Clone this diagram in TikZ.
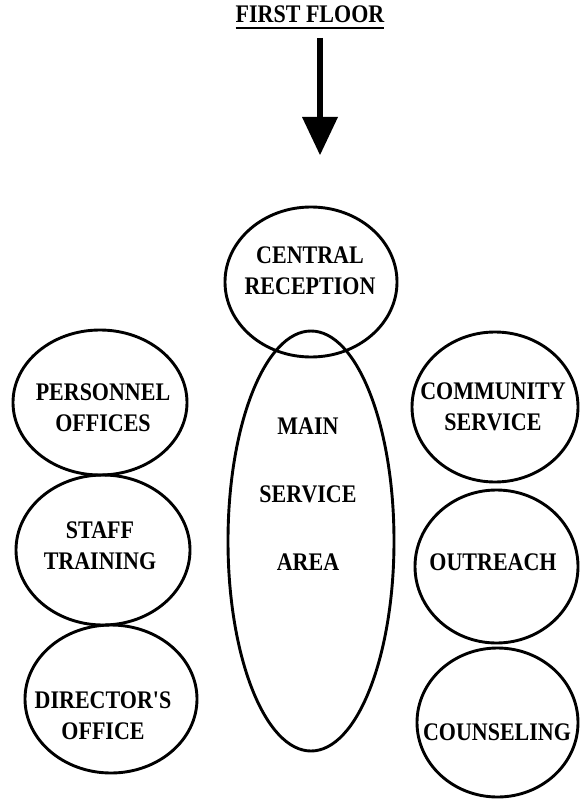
\documentclass[tikz,border=0pt]{standalone}
\usepackage{fontspec}
\setmainfont{Liberation Serif}
\usetikzlibrary{shapes.geometric}
\newcommand\vst[1]{\scalebox{1}[1.15]{#1}}
\tikzset{
  room/.style={draw=black, line width=2.9pt, ellipse, inner sep=0pt},
  lbl/.style={font=\bfseries\fontsize{22}{31}\selectfont, align=center, inner sep=0pt, text=black},
}
\begin{document}
\begin{tikzpicture}[x=1pt,y=-1pt]
\useasboundingbox[fill=white] (0,0) rectangle (580,799);
% title
\node[lbl, anchor=base] (ff) at (310,23) {\vst{FIRST FLOOR}};
\draw[line width=2pt] ([yshift=-5pt]ff.base west) -- ([yshift=-5pt]ff.base east);
% arrow
\coordinate (as) at (320,38);
\coordinate (ab) at (320,119);
\coordinate (tip) at (320,155);
\draw[line width=6pt] (as) -- (ab);
\fill[black] (302,117) -- (338,117) -- (tip) -- cycle;
% rooms
\node[room, minimum width=172pt, minimum height=150pt] (cr) at (311,282) {};
\node[room, minimum width=166pt, minimum height=420pt] (main) at (311,541) {};
\node[room, minimum width=174pt, minimum height=145pt] (po) at (100,402.5) {};
\node[room, minimum width=174pt, minimum height=150pt] (st) at (103,550) {};
\node[room, minimum width=172pt, minimum height=148pt] (do) at (111,699) {};
\node[room, minimum width=166pt, minimum height=150pt] (cs) at (495,407) {};
\node[room, minimum width=163pt, minimum height=153pt] (ou) at (496.5,566.5) {};
\node[room, minimum width=161pt, minimum height=149pt] (co) at (497.5,722.5) {};
% labels
\node[lbl] (tcr) at (310,271) {\vst{CENTRAL}\\\vst{RECEPTION}};
\node[lbl, font=\bfseries\fontsize{22}{68}\selectfont] (tmain) at (308,494) {\vst{MAIN}\\\vst{SERVICE}\\\vst{AREA}};
\node[lbl] (tpo) at (103,408) {\vst{PERSONNEL}\\\vst{OFFICES}};
\node[lbl] (tst) at (100,546) {\vst{STAFF}\\\vst{TRAINING}};
\node[lbl] (tdo) at (103,716) {\vst{DIRECTOR\textquotesingle S}\\\vst{OFFICE}};
\node[lbl] (tcs) at (493,407) {\vst{COMMUNITY}\\\vst{SERVICE}};
\node[lbl] (tou) at (493,562) {\vst{OUTREACH}};
\node[lbl] (tco) at (497,732) {\vst{COUNSELING}};
\end{tikzpicture}
\end{document}
